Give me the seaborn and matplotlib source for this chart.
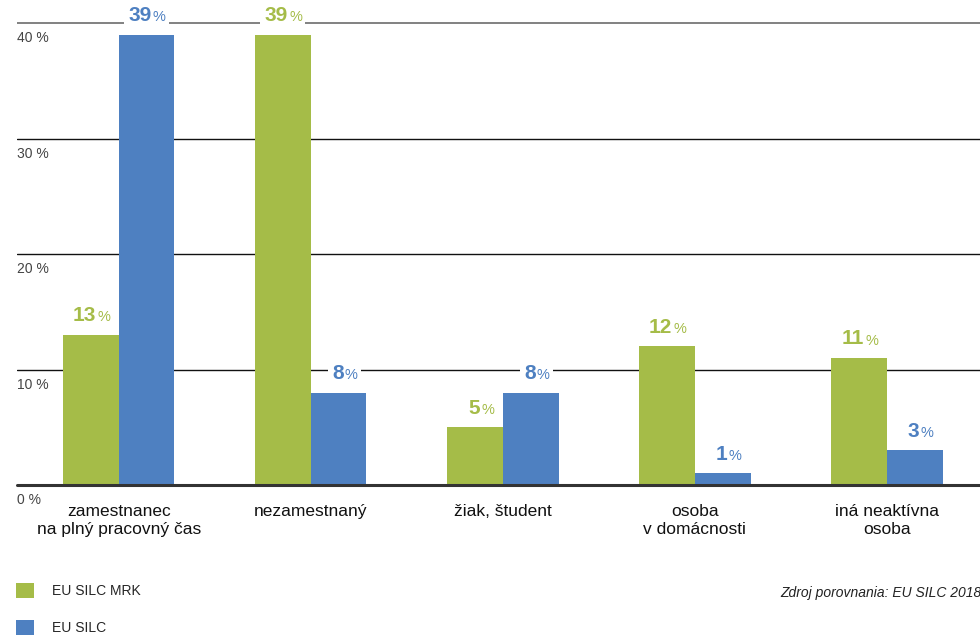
import pandas as pd
import seaborn as sns
import matplotlib.pyplot as plt
from matplotlib.patches import Patch

# Data
categories = ["zamestnanec\nna plný pracovný čas", "nezamestnaný", "žiak, študent",
              "osoba\nv domácnosti", "iná neaktívna\nosoba"]
series_names = ["EU SILC MRK", "EU SILC"]
mrk_values = [13, 39, 5, 12, 11]
silc_values = [39, 8, 8, 1, 3]
y_ticks = [0, 10, 20, 30, 40]
source_text = "Zdroj porovnania: EU SILC 2018"

GREEN = "#A5BC48"
BLUE = "#4E80C1"

df = pd.DataFrame({
    "kategoria": categories * 2,
    "seria": [series_names[0]] * len(categories) + [series_names[1]] * len(categories),
    "hodnota": mrk_values + silc_values,
})

sns.set_theme(style="white")
plt.rcParams['font.family'] = ['Liberation Sans', 'DejaVu Sans']

fig = plt.figure(figsize=(9.8, 6.4), dpi=100)
ax = fig.add_axes([17 / 980, 1 - 485 / 640, 1 - 17 / 980, 485 / 640])

sns.barplot(data=df, x="kategoria", y="hodnota", hue="seria", order=categories,
            hue_order=series_names, palette=[GREEN, BLUE], width=0.58, gap=0,
            saturation=1, legend=False, linewidth=0, ax=ax)

ax.set_ylim(0, 42)
ax.set_xlim(-0.53, 4.485)
for s in ax.spines.values():
    s.set_visible(False)
ax.set_xlabel("")
ax.set_ylabel("")
ax.set_yticks([])
ax.tick_params(axis="x", length=0, pad=14, labelsize=12.5, labelcolor="#111111")

# gridlines
for t in y_ticks:
    if t == 0:
        ax.axhline(t, color="#333333", lw=2.2, zorder=3, clip_on=False)
    elif t == 40:
        ax.axhline(t, color="#777777", lw=1.3, zorder=0)
    else:
        ax.axhline(t, color="#111111", lw=1.0, zorder=0)
    ax.annotate(f"{t} %", xy=(0, t), xycoords=("axes fraction", "data"),
                xytext=(0, -6), textcoords="offset points", ha="left", va="top",
                fontsize=10, color="#444444", annotation_clip=False)

# value labels: white backgrounds first, then the coloured text on top
box = dict(boxstyle="square,pad=0.2", fc="white", ec="none")
for cont, col in zip(ax.containers, [GREEN, BLUE]):
    for bar in cont:
        xc = bar.get_x() + bar.get_width() / 2
        h = bar.get_height()
        num = f"{int(round(h))}"
        ax.annotate(num, xy=(xc, h), xytext=(3.5, 7), textcoords="offset points",
                    ha="right", va="bottom", fontsize=15, fontweight="bold",
                    color="white", zorder=4, bbox=box)
        ax.annotate("%", xy=(xc, h), xytext=(4.5, 7.5), textcoords="offset points",
                    ha="left", va="bottom", fontsize=10.5, color=col, zorder=5, bbox=box)
        ax.annotate(num, xy=(xc, h), xytext=(3.5, 7), textcoords="offset points",
                    ha="right", va="bottom", fontsize=15, fontweight="bold",
                    color=col, zorder=6)

# legend
handles = [Patch(facecolor=GREEN, edgecolor="none"), Patch(facecolor=BLUE, edgecolor="none")]
fig.legend(handles, series_names, loc="upper left", bbox_to_anchor=(10 / 980, 1 - 577 / 640),
           frameon=False, fontsize=10, handlelength=1.3, handleheight=1.3,
           handletextpad=1.3, labelspacing=1.6, borderaxespad=0)

fig.text(780 / 980, 1 - 593 / 640, source_text, ha="left", va="center",
         fontsize=10, style="italic", color="#222222")

fig.savefig("out.png", dpi=100)
